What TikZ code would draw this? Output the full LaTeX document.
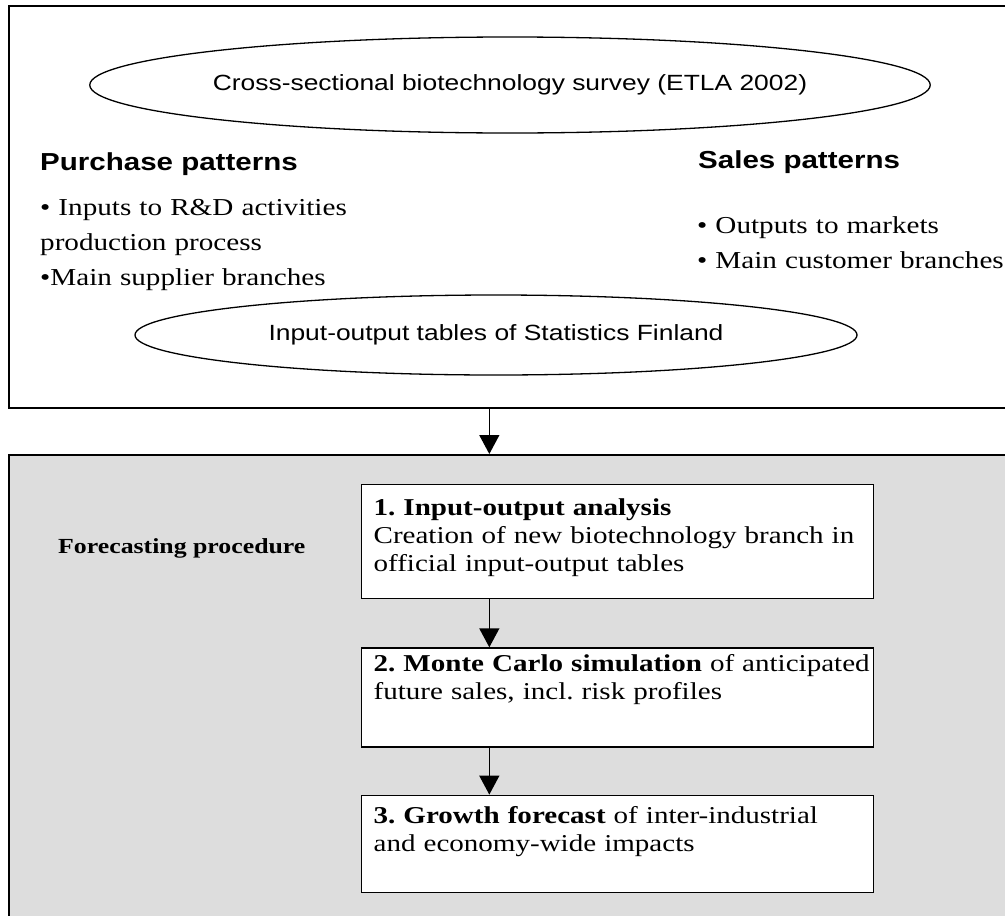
\documentclass[tikz,border=0pt]{standalone}
\usepackage{fontspec}
\setmainfont{Liberation Serif}[FakeStretch=1.2]
\setsansfont{Liberation Sans}[FakeStretch=1.2]
\usetikzlibrary{
  shapes.geometric,
  arrows.meta,
  positioning,
  calc
}
\frenchspacing
\definecolor{fcgray}{RGB}{221,221,221}
\tikzset{
  frame/.style={
    draw, anchor=north west, inner sep=0pt, line width=1.8pt
  },
  source/.style={
    ellipse, draw, line width=1.3pt, fill=white, inner sep=0pt,
    font=\fontsize{22}{26}\selectfont\sffamily
  },
  heading/.style={
    anchor=base west, inner sep=0pt,
    font=\fontsize{24.6}{30}\selectfont\sffamily\bfseries
  },
  itemlist/.style={
    anchor=base west, inner sep=0pt, align=left, text width=340pt,
    font=\fontsize{24.3}{35}\selectfont
  },
  stepbox/.style={
    draw, line width=1.3pt, fill=white, anchor=north west,
    inner xsep=12pt, inner ysep=0pt, text width=488pt, align=left,
    font=\fontsize{24.2}{28}\selectfont
  },
  arrow/.style={-{Triangle[length=19pt,width=20pt]}, line width=1.4pt}
}

\begin{document}
\begin{tikzpicture}[x=1pt, y=-1pt]
  \useasboundingbox (0,0) rectangle (1005,916);

  % data sources
  \node[frame, minimum width=1007pt, minimum height=402pt] (sources) at (8,5) {};
  \node[source, minimum width=720pt, minimum height=96pt]
    (survey) at (510,85) {Cross-sectional biotechnology survey (ETLA 2002)};
  \node[heading] (purchase) at (40,170) {Purchase patterns};
  \node[heading] (sales) at (698,168) {Sales patterns};
  \node[itemlist] (inputs) at (40,215)
    {• Inputs to R\&D activities\\production process\\•Main supplier branches};
  \node[itemlist] (outputs) at (697,233)
    {• Outputs to markets\\• Main customer branches};
  \node[source, minimum width=722pt, minimum height=80pt]
    (iotables) at (496,335) {Input-output tables of Statistics Finland};

  % forecasting procedure
  \node[frame, fill=fcgray, minimum width=1007pt, minimum height=480pt]
    (forecast) at (8,454) {};
  \node[anchor=base west, inner sep=0pt,
    font=\fontsize{21.5}{25}\selectfont\bfseries]
    (fclabel) at (58,553) {Forecasting procedure};
  \node[stepbox, text height=31pt, text depth=83pt] (ioa) at (361,484)
    {\textbf{1. Input-output analysis}\\Creation of new biotechnology branch in\\official input-output tables};
  \node[stepbox, text height=24pt, text depth=75pt, below=48pt of ioa]
    (mc) {\mbox{\textbf{2. Monte Carlo simulation} of anticipated}\\future sales, incl. risk profiles};
  \node[stepbox, text height=28pt, text depth=69pt, below=47pt of mc]
    (growth) {\textbf{3. Growth forecast} of inter-industrial\\and economy-wide impacts};

  \coordinate (axis) at ($(ioa.north west)!.25!(ioa.north east)$);
  \draw[arrow] (axis |- sources.south) -- (axis |- forecast.north);
  \draw[arrow] (axis |- ioa.south) -- (axis |- mc.north);
  \draw[arrow] (axis |- mc.south) -- (axis |- growth.north);
\end{tikzpicture}
\end{document}
